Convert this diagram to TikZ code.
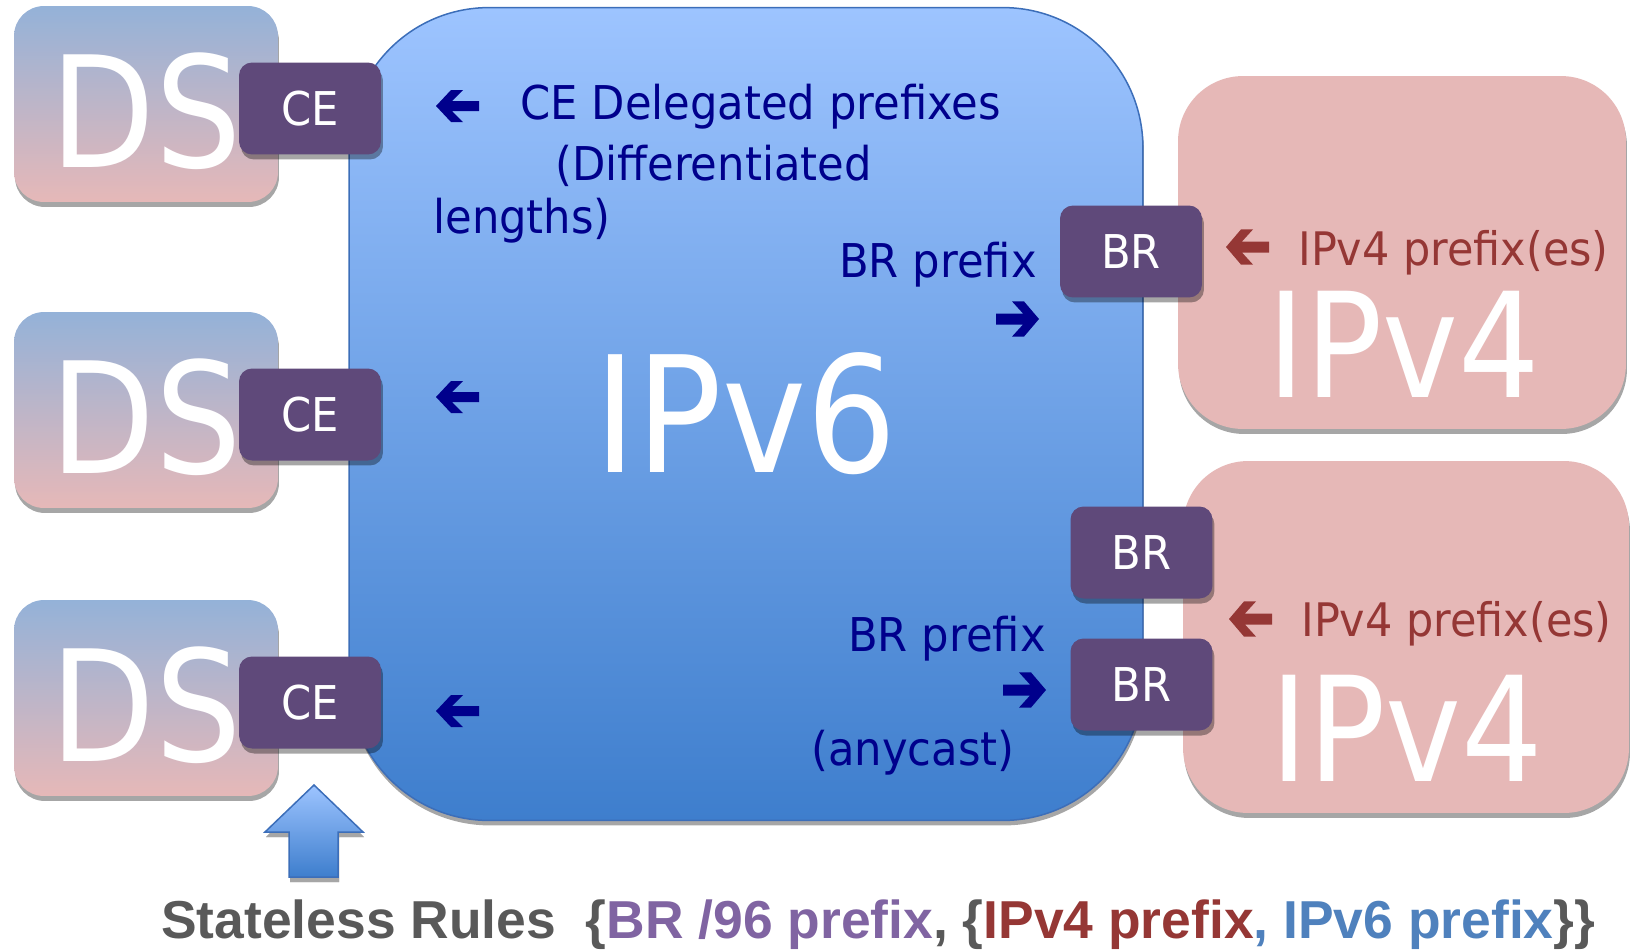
\documentclass[tikz,border=0pt]{standalone}
\usepackage{fontspec}
\setmainfont{DejaVu Sans}[FakeStretch=0.93]
\newfontfamily\bigfont{DejaVu Sans}[FakeStretch=0.88]
\newfontfamily\rulefont{Liberation Sans}
\usetikzlibrary{shadows}

\definecolor{dsblue}{RGB}{148,178,216}
\definecolor{dspink}{RGB}{230,184,184}
\definecolor{vsixtop}{RGB}{157,196,255}
\definecolor{vsixbot}{RGB}{62,126,205}
\definecolor{vsixline}{RGB}{60,110,185}
\definecolor{vfour}{RGB}{230,184,183}
\definecolor{boxpurple}{RGB}{95,73,122}
\definecolor{navy}{RGB}{0,0,140}
\definecolor{vfourred}{RGB}{149,55,53}
\definecolor{rulegray}{RGB}{89,89,89}
\definecolor{rulepurple}{RGB}{128,100,162}
\definecolor{ruleblue}{RGB}{79,129,189}

\tikzset{
  shade/.style={drop shadow={shadow xshift=0.02cm, shadow yshift=-0.1cm, fill=black!35, opacity=1}},
  ds/.style={shade, rounded corners=0.6cm, minimum width=5.28cm, minimum height=3.92cm,
    inner sep=0pt, top color=dsblue, bottom color=dspink, text=white,
    text height=2.54cm, text depth=0pt,
    font=\bigfont\fontsize{88}{88}\selectfont},
  router/.style={drop shadow={shadow xshift=0.04cm, shadow yshift=-0.1cm, fill=black, opacity=0.35},
    rounded corners=0.26cm, fill=boxpurple, minimum width=2.84cm, minimum height=1.84cm,
    inner sep=0pt, text=white, font=\fontsize{26.5}{26.5}\selectfont},
  vfourbox/.style={shade, rounded corners=1.3cm, fill=vfour, minimum width=8.96cm,
    minimum height=7.06cm, inner sep=0pt},
  label/.style={inner sep=0pt, text=navy, font=\fontsize{26.5}{26.5}\selectfont},
  redlabel/.style={inner sep=0pt, text=vfourred, font=\fontsize{26.3}{26.3}\selectfont},
  pics/fatarrow/.style={code={
    \fill[#1] (0,0) -- (15,-16) -- (27,-16) -- (16,-5) -- (43,-5) -- (43,5)
      -- (16,5) -- (27,16) -- (15,16) -- cycle;}}
}

\begin{document}
\begin{tikzpicture}[x=0.02cm, y=-0.02cm]
\useasboundingbox (0,0) rectangle (1634,951);

% customer sites
\node[ds] (ds1) at (146,104) {DS};
\node[ds] (ds2) at (146,410) {DS};
\node[ds] (ds3) at (146,698) {DS};

% IPv6 domain
\node[shade, rounded corners=2.8cm, minimum width=15.88cm, minimum height=16.26cm,
  top color=vsixtop, bottom color=vsixbot, draw=vsixline, line width=0.03cm,
  text=white, font=\bigfont\fontsize{92}{92}\selectfont] (vsix) at (746,414) {IPv6};

% IPv4 domains
\node[vfourbox] (vfour1) at (1402,252.5) {};
\node[vfourbox, minimum width=8.92cm, minimum height=7.04cm] (vfour2) at (1406,637) {};
\node[text=white, inner sep=0pt, font=\bigfont\fontsize{83}{83}\selectfont] (vfourtxt1) at (1404,344) {IPv4};
\node[text=white, inner sep=0pt, font=\bigfont\fontsize{83}{83}\selectfont] (vfourtxt2) at (1407,728) {IPv4};

% CE and BR routers
\foreach \y/\n in {108.5/1, 414.5/2, 702.5/3}
  \node[router] (ce\n) at (310,\y) {CE};
\node[router] (br1) at (1131,251.5) {BR};
\node[router] (br2) at (1141.5,552.5) {BR};
\node[router] (br3) at (1141.5,684.5) {BR};

% prefixes
\pic at (436,106) {fatarrow=navy};
\node[label, anchor=base west] (deleg1) at (520,119) {CE Delegated prefixes};
\node[label, anchor=base west] (deleg2) at (555,180) {(Differentiated};
\node[label, anchor=base west] (deleg3) at (433,233) {lengths)};
\pic at (436,397) {fatarrow=navy};
\pic at (436,711) {fatarrow=navy};

\node[label, anchor=base east] (brpre1) at (1037,277) {BR prefix};
\pic[xscale=-1, yscale=1.1] at (1039,319) {fatarrow=navy};
\node[label, anchor=base east] (brpre2) at (1046,651) {BR prefix};
\pic[xscale=-1, yscale=1.1] at (1046,690) {fatarrow=navy};
\node[label, anchor=base west] (anycast) at (811,765) {(anycast)};

\pic[yscale=1.1] at (1226,247) {fatarrow=vfourred};
\node[redlabel, anchor=base west] (vfourpre1) at (1298,265) {IPv4 prefix(es)};
\pic[yscale=1.1] at (1229,619) {fatarrow=vfourred};
\node[redlabel, anchor=base west] (vfourpre2) at (1301,636) {IPv4 prefix(es)};

% rules pushed to the CE
\shade[shade, top color=vsixtop, bottom color=vsixbot, draw=vsixline, line width=0.03cm]
  (314,785) -- (363,832) -- (338,832) -- (338,877) -- (289,877) -- (289,832) -- (265,832) -- cycle;
\node[anchor=base west, inner sep=0pt, text=rulegray, font=\rulefont\bfseries\fontsize{30.4}{30.4}\selectfont]
  (rules) at (161,938) {Stateless Rules\ \ \{\textcolor{rulepurple}{BR /96 prefix}, \{\textcolor{vfourred}{IPv4 prefix}\textcolor{ruleblue}{, IPv6 prefix}\}\}};
\end{tikzpicture}
\end{document}
